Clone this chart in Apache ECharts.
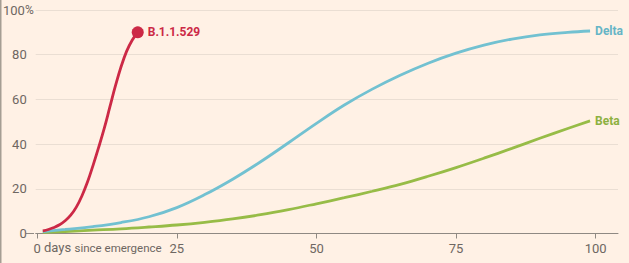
<!DOCTYPE html>
<html>
<head>
<meta charset="utf-8">
<script src="https://cdn.jsdelivr.net/npm/echarts@6/dist/echarts.min.js"></script>
<style>
html,body{margin:0;padding:0;background:#FFF1E5;}
#c{width:629px;height:263px;}
</style>
</head>
<body>
<div id="c"></div>
<script>
// Days since emergence / share of sequenced cases (%)
const omicronDays   = [1, 2, 3, 4, 5, 6, 7, 8, 9, 10, 11, 12, 13, 14, 15, 16, 17, 18];
const omicronValues = [1.2, 1.8, 2.7, 3.9, 5.7, 8.2, 11.8, 16.8, 23, 30.5, 38.5, 47, 56.5, 66, 74.5, 81.5, 86.5, 90];

const deltaDays   = [1, 5, 10, 15, 20, 25, 30, 35, 40, 45, 50, 55, 60, 65, 70, 75, 80, 85, 90, 95, 99];
const deltaValues = [0.8, 1.8, 3.1, 4.9, 7.5, 11.6, 17.4, 24.3, 32.1, 40.6, 49.3, 57.5, 64.6, 70.8, 76.2, 80.7, 84.3, 87.0, 88.9, 90.0, 90.6];

const betaDays   = [1, 5, 10, 15, 20, 25, 30, 35, 40, 45, 50, 55, 60, 65, 70, 75, 80, 85, 90, 95, 99];
const betaValues = [0.5, 0.9, 1.5, 2.1, 2.9, 3.8, 5.0, 6.5, 8.4, 10.7, 13.3, 16.0, 18.9, 22.0, 25.6, 29.5, 33.7, 38.1, 42.6, 47.0, 50.4];

const xTicks = [0, 25, 50, 75, 100];

const colors = { 'B.1.1.529': '#CC2946', 'Delta': '#72C1D1', 'Beta': '#97BC47' };
const labelColors = { 'B.1.1.529': '#CC2946', 'Delta': '#66B5C6', 'Beta': '#8DB040' };

function pairs(xs, ys) { return xs.map((x, i) => [x, ys[i]]); }

const chart = echarts.init(document.getElementById('c'), null, { renderer: 'svg' });

const FONT = 'Roboto';

function lineSeries(name, xs, ys, dist) {
  return {
    name: name,
    type: 'line',
    data: pairs(xs, ys),
    smooth: 0.4,
    showSymbol: false,
    symbol: 'none',
    lineStyle: { color: colors[name], width: 2.8 },
    itemStyle: { color: colors[name] },
    emphasis: { disabled: true },
    endLabel: {
      show: true,
      formatter: name,
      color: labelColors[name],
      fontFamily: FONT,
      fontWeight: 'bold',
      fontSize: 12,
      distance: dist
    },
    z: 3
  };
}

const omi = lineSeries('B.1.1.529', omicronDays, omicronValues, 10);
omi.showSymbol = true;
omi.data = omi.data.map((d, i) => i === omi.data.length - 1
  ? { value: d, symbol: 'circle', symbolSize: 12, itemStyle: { color: colors['B.1.1.529'] } }
  : { value: d, symbol: 'none' });
omi.z = 4;

chart.setOption({
  animation: false,
  backgroundColor: '#FFF1E5',
  grid: { left: 34, right: 11, top: 10, bottom: 29.5 },
  xAxis: {
    type: 'value',
    min: -0.27,
    max: 104,
    axisLine: { show: true, lineStyle: { color: '#8F8983', width: 1 } },
    axisTick: { show: true, length: 5, lineStyle: { color: '#8F8983' }, customValues: xTicks },
    axisLabel: {
      customValues: xTicks,
      color: '#6E6762',
      fontFamily: FONT,
      fontSize: 13,
      margin: 8,
      formatter: v => String(v)
    },
    splitLine: { show: false }
  },
  yAxis: {
    type: 'value',
    min: 0,
    max: 100,
    interval: 20,
    axisLine: { show: false },
    axisTick: { show: false },
    splitLine: { show: true, lineStyle: { color: '#EADED3', width: 1 } },
    axisLabel: {
      color: '#6E6762',
      fontFamily: FONT,
      fontSize: 13,
      margin: 2,
      formatter: v => v === 100 ? '{n|100}{p|%}' : '{n|' + v + '}{s| }',
      rich: {
        n: { color: '#6E6762', fontFamily: FONT, fontSize: 13 },
        p: { color: '#6E6762', fontFamily: FONT, fontSize: 12 },
        s: { fontFamily: FONT, fontSize: 12, width: 7 }
      }
    }
  },
  graphic: [
    { type: 'rect', left: 0, top: 0, shape: { width: 1.5, height: 263 }, style: { fill: '#A59E94' }, silent: true },
    { type: 'line', shape: { x1: 26, y1: 233.5, x2: 34, y2: 233.5 }, style: { stroke: '#8F8983', lineWidth: 1 }, silent: true },
    {
      type: 'text',
      silent: true,
      style: {
        x: 44, y: 247.5,
        verticalAlign: 'middle',
        text: '{a|days} {b|since emergence}',
        rich: {
          a: { fontFamily: FONT, fontSize: 13, fill: '#6E6762', color: '#6E6762' },
          b: { fontFamily: FONT, fontSize: 11.5, fill: '#6E6762', color: '#6E6762' }
        }
      }
    }
  ],
  series: [
    lineSeries('Beta', betaDays, betaValues, 5),
    lineSeries('Delta', deltaDays, deltaValues, 5),
    omi
  ]
});
</script>
</body>
</html>
